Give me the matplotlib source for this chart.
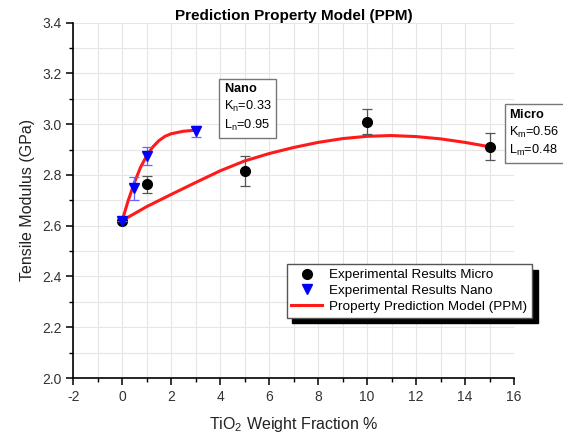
import numpy as np
import matplotlib
matplotlib.use("Agg")
import matplotlib.pyplot as plt
from matplotlib.ticker import MultipleLocator, FormatStrFormatter
from matplotlib.lines import Line2D

plt.rcParams['font.family'] = ['Liberation Sans', 'DejaVu Sans']
plt.rcParams['axes.unicode_minus'] = False
plt.rcParams['mathtext.fontset'] = 'custom'
plt.rcParams['mathtext.rm'] = 'Liberation Sans'
plt.rcParams['mathtext.bf'] = 'Liberation Sans:bold'

# experimental points
micro_x = [0, 1, 5, 10, 15]
micro_y = [2.62, 2.763, 2.816, 3.01, 2.911]
micro_err = [0.0, 0.033, 0.058, 0.049, 0.053]

nano_x = [0, 0.5, 1, 3]
nano_y = [2.62, 2.747, 2.875, 2.971]
nano_err = [0.0, 0.046, 0.035, 0.02]

# PPM curves
ppm_micro_x = [0, 1, 2, 3, 4, 5, 6, 7, 8, 9, 10, 11, 12, 13, 14, 15]
ppm_micro_y = [2.62, 2.675, 2.723, 2.77, 2.816, 2.855, 2.884, 2.908, 2.928,
               2.943, 2.952, 2.955, 2.951, 2.942, 2.928, 2.911]
ppm_nano_x = [0, 0.25, 0.5, 0.75, 1.0, 1.25, 1.5, 1.75, 2.0, 2.5, 3.0]
ppm_nano_y = [2.62, 2.70, 2.77, 2.83, 2.875, 2.91, 2.935, 2.952, 2.962, 2.972, 2.976]

fig = plt.figure(figsize=(5.63, 4.34), dpi=100)
ax = fig.add_axes([0.130, 0.129, 0.783, 0.819])

ax.plot(ppm_micro_x, ppm_micro_y, color='#ff1a1a', lw=2.2, zorder=3)
ax.plot(ppm_nano_x, ppm_nano_y, color='#ff1a1a', lw=2.2, zorder=3)

ax.errorbar(micro_x, micro_y, yerr=micro_err, fmt='o', color='black', ms=7,
            ecolor='#555555', elinewidth=0.9, capsize=3.5, capthick=0.9, zorder=4)
ax.errorbar(nano_x, nano_y, yerr=nano_err, fmt='v', color='#0000ff', ms=7.5,
            ecolor='#6666ff', elinewidth=0.9, capsize=3.5, capthick=0.9, zorder=5)

ax.xaxis.set_major_locator(MultipleLocator(2))
ax.xaxis.set_minor_locator(MultipleLocator(1))
ax.yaxis.set_major_locator(MultipleLocator(0.2))
ax.yaxis.set_minor_locator(MultipleLocator(0.1))
ax.yaxis.set_major_formatter(FormatStrFormatter('%.1f'))
ax.set_xlim(-2, 16)
ax.set_ylim(2.0, 3.4)

ax.grid(which='both', color='#e6e6e6', lw=0.8, zorder=0)
ax.set_axisbelow(True)
for s in ['top', 'right']:
    ax.spines[s].set_visible(False)
for s in ['left', 'bottom']:
    ax.spines[s].set_linewidth(1.2)
ax.tick_params(which='major', direction='out', length=5, width=1.1,
               labelsize=10, labelcolor='#333333')
ax.tick_params(which='minor', direction='out', length=3, width=1.0)

ax.set_title('Prediction Property Model (PPM)', fontsize=11, fontweight='bold', pad=2)
ax.set_xlabel('TiO$_2$ Weight Fraction %', fontsize=11.5, color='#222222', labelpad=8)
ax.set_ylabel('Tensile Modulus (GPa)', fontsize=11.5, color='#222222', labelpad=5)

box = dict(boxstyle='square,pad=0.35', fc='white', ec='#777777', lw=1)
ax.text(4.15, 3.065, r'$\mathbf{Nano}$' + '\n' + r'K$_\mathregular{n}$=0.33' + '\n'
        + r'L$_\mathregular{n}$=0.95',
        fontsize=9.2, va='center', ha='left', bbox=box, linespacing=1.35, zorder=6)
ax.text(15.8, 2.965, r'$\mathbf{Micro}$' + '\n' + r'K$_\mathregular{m}$=0.56' + '\n'
        + r'L$_\mathregular{m}$=0.48',
        fontsize=9.2, va='center', ha='left', bbox=box, linespacing=1.35, zorder=6)

handles = [
    Line2D([], [], ls='none', marker='o', color='black', ms=7),
    Line2D([], [], ls='none', marker='v', color='#0000ff', ms=7.5),
    Line2D([], [], color='#ff1a1a', lw=2.2),
]
labels = ['Experimental Results Micro', 'Experimental Results Nano',
          'Property Prediction Model (PPM)']
leg = ax.legend(handles, labels, loc='lower right', bbox_to_anchor=(1.056, 0.151),
                fontsize=9.7, frameon=True, fancybox=False, edgecolor='#555555',
                shadow={'color': 'black', 'alpha': 1, 'ox': 4, 'oy': -4},
                handlelength=2.3, handletextpad=0.5, borderpad=0.35, labelspacing=0.25)
leg.get_frame().set_linewidth(1.0)

fig.savefig('out.png', dpi=100)
